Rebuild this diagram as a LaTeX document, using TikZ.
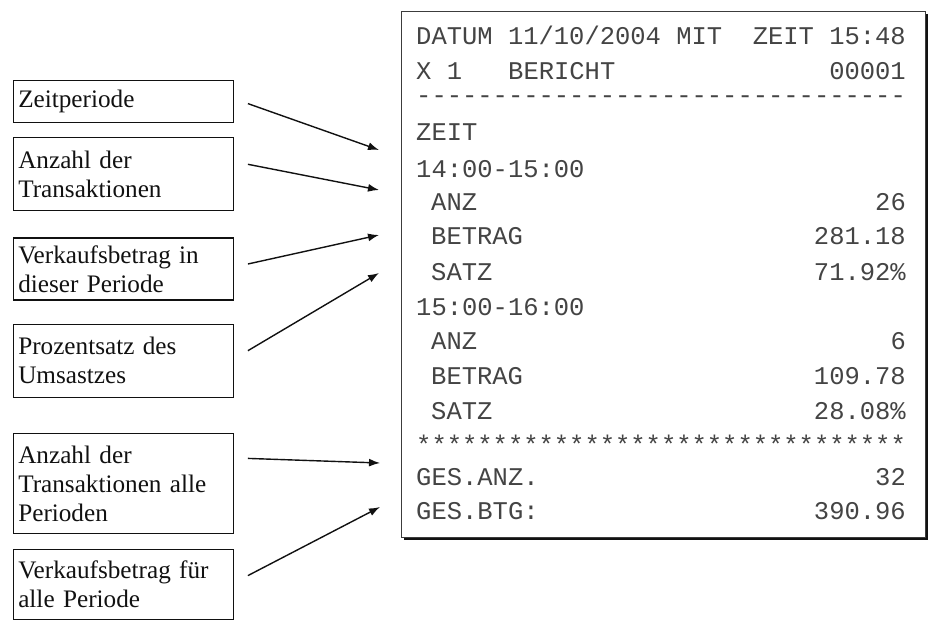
\documentclass[tikz,border=0pt]{standalone}
\usepackage{fontspec}
\setmainfont{Liberation Serif}
\setmonofont{Liberation Mono}
\usepackage{tikz}
\usetikzlibrary{arrows.meta,positioning,shadows}
\definecolor{rcInk}{HTML}{111111}
\definecolor{rcPrint}{HTML}{444444}
\definecolor{rcEdge}{HTML}{3C3C3C}
\tikzset{
  lbox/.style={rectangle,draw=rcInk,line width=1.2pt,
    text width=210pt,inner xsep=5pt,inner ysep=2pt,
    align=left,font=\fontsize{25.2}{29}\selectfont,text=rcInk},
  rbox/.style={rectangle,draw=rcEdge,line width=1.1pt,fill=white,
    minimum width=524pt,minimum height=526pt,
    drop shadow={shadow xshift=2.5pt,shadow yshift=-2.5pt,
      fill=rcInk,opacity=1}},
  rtxt/.style={anchor=base west,inner sep=0pt,
    font=\ttfamily\fontsize{25.5}{30}\selectfont,text=rcPrint},
  rval/.style={rtxt,anchor=base east},
  arr/.style={-{Latex[length=11pt,width=8pt]},line width=1.4pt,color=rcInk},
}

\begin{document}
\begin{tikzpicture}[x=1pt,y=-1pt]
  \useasboundingbox (0,0) rectangle (931,621);

  % receipt
  \node[rbox,anchor=north west] (rcpt) at (401,11) {};
  \node[rtxt] (datum) at (416,44) {DATUM 11/10/2004 MIT};
  \node[rval] (uhr) at (906,44) {ZEIT 15:48};
  \node[rtxt] (xnr) at (416,79) {X 1};
  \node[rtxt] (bericht) at (508,79) {BERICHT};
  \node[rval] (nr) at (906,79) {00001};
  \node[rtxt] (dash) at (416,103) {--------------------------------};
  \node[rtxt] (zeitk) at (416,140) {ZEIT};
  \node[rtxt] (per1) at (416,177) {14:00-15:00};
  \node[rtxt] (anz1) at (431,210) {ANZ};
  \node[rval] (anz1v) at (906,210) {26};
  \node[rtxt] (btg1) at (431,244) {BETRAG};
  \node[rval] (btg1v) at (906,244) {281.18};
  \node[rtxt] (satz1) at (431,280) {SATZ};
  \node[rval] (satz1v) at (906,280) {71.92\%};
  \node[rtxt] (per2) at (416,315) {15:00-16:00};
  \node[rtxt] (anz2) at (431,349) {ANZ};
  \node[rval] (anz2v) at (906,349) {6};
  \node[rtxt] (btg2) at (431,384) {BETRAG};
  \node[rval] (btg2v) at (906,384) {109.78};
  \node[rtxt] (satz2) at (431,419) {SATZ};
  \node[rval] (satz2v) at (906,419) {28.08\%};
  \node[rtxt] (stars) at (416,453) {********************************};
  \node[rtxt] (gesanz) at (416,485) {GES.ANZ.};
  \node[rval] (gesanzv) at (906,485) {32};
  \node[rtxt] (gesbtg) at (416,519) {GES.BTG:};
  \node[rval] (gesbtgv) at (906,519) {390.96};

  % explanations
  \node[lbox,minimum height=42pt,anchor=north west] (zper) at (12.7,80)
    {Zeitperiode};
  \node[lbox,minimum height=73pt,below=14pt of zper] (ntra)
    {Anzahl der\\Transaktionen};
  \node[lbox,minimum height=62pt,below=26pt of ntra] (vper)
    {Verkaufsbetrag in\\dieser Periode};
  \node[lbox,minimum height=73pt,below=23pt of vper] (proz)
    {Prozentsatz des\\Umsastzes};
  \node[lbox,minimum height=100pt,below=35pt of proz] (nall)
    {Anzahl der\\Transaktionen alle\\Perioden};
  \node[lbox,minimum height=70pt,below=15pt of nall] (vall)
    {Verkaufsbetrag für\\alle Periode};

  \coordinate (t1) at (379,150);
  \coordinate (t2) at (379,190);
  \coordinate (t3) at (379,235);
  \coordinate (t4) at (379,273);
  \coordinate (t5) at (380,463);
  \coordinate (t6) at (380,507);

  \draw[arr] ([shift={(14pt,-2pt)}]zper.east) -- (t1);
  \draw[arr] ([shift={(14pt,10pt)}]ntra.east) -- (t2);
  \draw[arr] ([shift={(14pt,5pt)}]vper.east) -- (t3);
  \draw[arr] ([shift={(14pt,10pt)}]proz.east) -- (t4);
  \draw[arr] ([shift={(14pt,25pt)}]nall.east) -- (t5);
  \draw[arr] ([shift={(14pt,9pt)}]vall.east) -- (t6);
\end{tikzpicture}
\end{document}
